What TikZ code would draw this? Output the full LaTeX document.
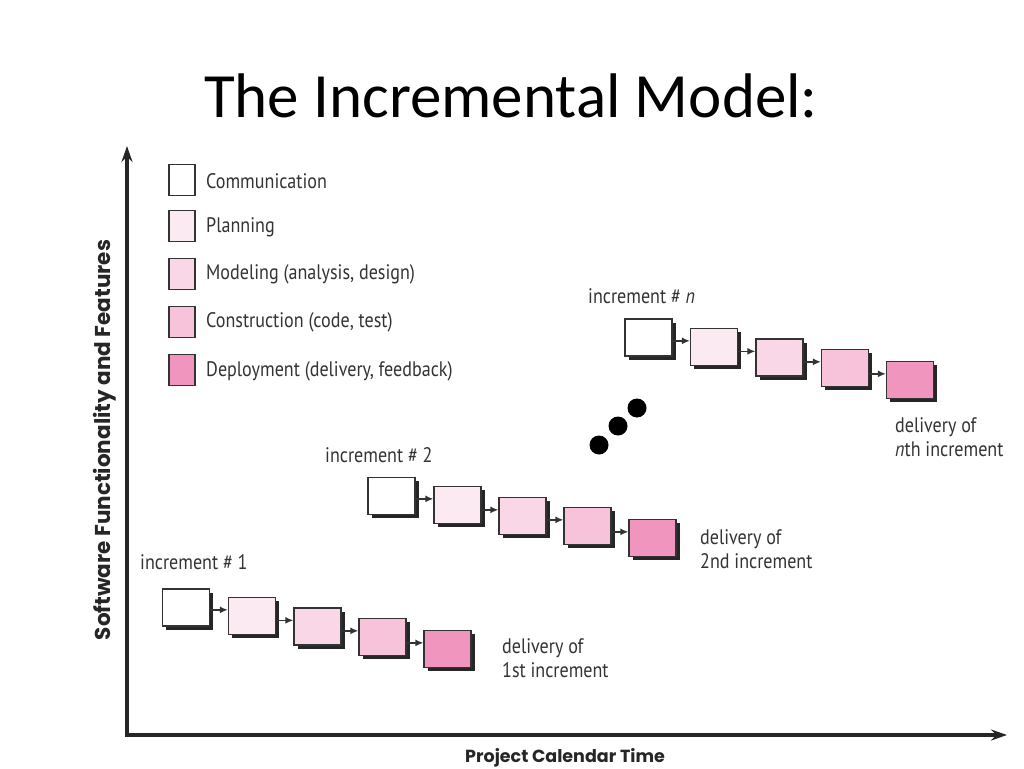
\documentclass[tikz,border=0pt]{standalone}
\usepackage{fontspec}
\setmainfont{PT Sans}
\newfontfamily\titlefont{Carlito}
\newfontfamily\labfont[FakeStretch=0.86]{PT Sans}
\newfontfamily\axfont{Poppins}
\usetikzlibrary{arrows.meta,shadows,calc}
\definecolor{cA}{HTML}{FFFFFF}
\definecolor{cB}{HTML}{FCEAF2}
\definecolor{cC}{HTML}{F9D7E7}
\definecolor{cD}{HTML}{F6C3DA}
\definecolor{cE}{HTML}{EF95BE}
\definecolor{ink}{HTML}{333333}
\tikzset{
  phase/.style={draw=ink, line width=1.3pt, minimum width=47pt, minimum height=37pt, inner sep=0pt,
    drop shadow={shadow xshift=3.5pt, shadow yshift=-3.5pt, fill=black!85, opacity=1}},
  legbox/.style={draw=ink, line width=1.4pt, minimum width=26pt, minimum height=31pt, inner sep=0pt},
  legtext/.style={anchor=west, inner sep=0pt, font=\labfont\fontsize{21}{22}\selectfont, text=ink},
  lab/.style={anchor=west, inner sep=0pt, font=\labfont\fontsize{21}{24}\selectfont, text=ink, align=left},
  conn/.style={line width=1.4pt, draw=ink, -{Latex[length=8pt,width=7pt]}},
  axisline/.style={line width=3.5pt, draw=black!85, -{Stealth[length=16pt,width=11pt]}},
  axlabel/.style={font=\axfont\bfseries\fontsize{21.5}{24}\selectfont, text=black!85, inner sep=0pt},
  xlabel/.style={font=\axfont\bfseries\fontsize{17.5}{20}\selectfont, text=black!85, inner sep=0pt},
  dot/.style={circle, fill=black, minimum size=19pt, inner sep=0pt}
}
\newcommand{\mychain}[6]{%
  \node[phase, fill=cA] (#1a) at #2 {};
  \node[phase, fill=cB] (#1b) at #3 {};
  \node[phase, fill=cC] (#1c) at #4 {};
  \node[phase, fill=cD] (#1d) at #5 {};
  \node[phase, fill=cE] (#1e) at #6 {};
  \path ([yshift=-13pt]#1b.north west) coordinate (#1tb);
  \path ([yshift=-13pt]#1c.north west) coordinate (#1tc);
  \path ([yshift=-13pt]#1d.north west) coordinate (#1td);
  \path ([yshift=-13pt]#1e.north west) coordinate (#1te);
  \draw[conn] (#1a.east |- #1tb) -- (#1tb);
  \draw[conn] (#1b.east |- #1tc) -- (#1tc);
  \draw[conn] (#1c.east |- #1td) -- (#1td);
  \draw[conn] (#1d.east |- #1te) -- (#1te);
}
\begin{document}
\begin{tikzpicture}[x=1pt, y=-1pt]
\useasboundingbox (0,0) rectangle (1024,768);
\fill[white] (0,0) rectangle (1024,768);

% title
\node[font=\titlefont\fontsize{63}{65}\selectfont, inner sep=0pt] (title) at (511,96) {The Incremental Model:};

% axes
\coordinate (origin) at (127,735);
\coordinate (ytip) at (127,146);
\coordinate (xtip) at (1007,735);
\draw[axisline] ([yshift=-1.75pt]origin) -- (ytip);
\draw[axisline] ([xshift=-1.75pt]origin) -- (xtip);
\node[axlabel, rotate=90] (ylab) at (105,440) {Software Functionality and Features};
\node[xlabel] (xlab) at (565,758) {Project Calendar Time};

% legend
\node[legbox, fill=cA] (l1) at (182,180) {};
\node[legbox, fill=cB] (l2) at (182,226) {};
\node[legbox, fill=cC] (l3) at (182,274) {};
\node[legbox, fill=cD] (l4) at (182,322) {};
\node[legbox, fill=cE] (l5) at (182,370) {};
\node[legtext] (t1) at (206,181) {Communication};
\node[legtext] (t2) at (206,227) {Planning};
\node[legtext] (t3) at (206,274) {Modeling (analysis, design)};
\node[legtext] (t4) at (206,322) {Construction (code, test)};
\node[legtext] (t5) at (206,371) {Deployment (delivery, feedback)};

% increment 1
\mychain{p}{(186,607.5)}{(252,616)}{(317.5,626.5)}{(382.5,637)}{(447.5,649)}
\node[lab] (inc1) at (140,562) {increment \# 1};
\node[lab] (del1) at (502,658) {delivery of\\1st increment};

% increment 2
\mychain{q}{(391.5,496)}{(457.5,505)}{(522.5,516)}{(587.5,526)}{(652.5,538)}
\node[lab] (inc2) at (325,455) {increment \# 2};
\node[lab] (del2) at (700,549) {delivery of\\2nd increment};

% increment n
\mychain{r}{(648.5,337.5)}{(714,347)}{(779.5,357.5)}{(845,368)}{(910,380)}
\node[lab] (incn) at (588,296) {increment \# \textit{n}};
\node[lab] (deln) at (895,437) {delivery of\\\textit{n}th increment};

% dots
\node[dot] (d1) at (599,445) {};
\node[dot] (d2) at (618,426) {};
\node[dot] (d3) at (637,408) {};
\end{tikzpicture}
\end{document}
